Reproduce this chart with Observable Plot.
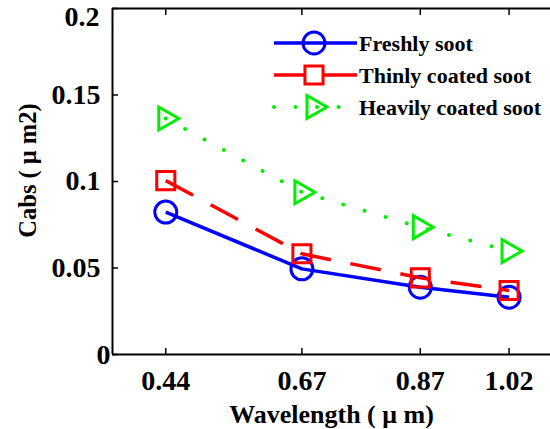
<!DOCTYPE html>
<html>
<head>
<meta charset="utf-8">
<script src="https://cdn.jsdelivr.net/npm/d3@7"></script>
<script src="https://cdn.jsdelivr.net/npm/@observablehq/plot@0.6"></script>
<style>
  html, body { margin: 0; padding: 0; background: #fff; }
</style>
</head>
<body>
<div id="chart"></div>
<script>
// ---- data ----
const wavelengths = [0.44, 0.67, 0.87, 1.02];
const freshly = [0.0823, 0.0495, 0.0389, 0.0331];
const thinly  = [0.1005, 0.0582, 0.0443, 0.0370];
const heavily = [0.1364, 0.0938, 0.0736, 0.0598];
const seriesNames = ["Freshly soot", "Thinly coated soot", "Heavily coated soot"];
const seriesValues = [freshly, thinly, heavily];
const xTicks = [0.44, 0.67, 0.87, 1.02];
const yTicks = [0.05, 0.1, 0.15];
const yTop = 0.2;
const yZero = 0;
const xLabel = "Wavelength ( \u03bc m)";
const yLabel = "Cabs ( \u03bc m2)";

// ---- styles ----
const colors = ["#0000ff", "#ff0000", "#00ee00"];
const dashes = [null, "31 20", "0 22"];
const lineWidths = [3.5, 3.5, 4];
const triangleRight = {
  draw(ctx, size) {
    const r = Math.sqrt(size / Math.PI);
    ctx.moveTo(-0.7 * r, -1.15 * r);
    ctx.lineTo(1.3 * r, 0);
    ctx.lineTo(-0.7 * r, 1.15 * r);
    ctx.closePath();
  }
};
const symbols = ["circle", "square", triangleRight];
const radii = [11, 10.2, 10];

const rows = [];
seriesNames.forEach((name, i) => {
  wavelengths.forEach((w, j) => rows.push({series: name, idx: i, w, v: seriesValues[i][j]}));
});

const xDomain = [0.35, 1.09];
const font = "'Liberation Serif', 'Times New Roman', serif";
const tickFont = 28;

const seriesMarks = [];
seriesNames.forEach((name, i) => {
  const d = rows.filter(r => r.idx === i);
  seriesMarks.push(Plot.line(d, {
    x: "w", y: "v", stroke: colors[i], strokeWidth: lineWidths[i],
    strokeDasharray: dashes[i], strokeLinecap: i === 2 ? "round" : "butt"
  }));
  seriesMarks.push(Plot.dot(d, {
    x: "w", y: "v", r: radii[i], symbol: symbols[i],
    stroke: colors[i], strokeWidth: 3, fill: "none"
  }));
});

const svg = Plot.plot({
  width: 550,
  height: 429,
  marginLeft: 112,
  marginRight: 0,
  marginTop: 8,
  marginBottom: 75,
  x: {domain: xDomain},
  y: {domain: [yZero, yTop]},
  style: {fontFamily: font, fontWeight: "bold", color: "#000", background: "#fff"},
  marks: [
    // inward ticks
    Plot.axisX({ticks: xTicks, anchor: "bottom", tickSize: 6, dy: -6, tickFormat: () => "", label: null, strokeWidth: 1.5}),
    Plot.axisX({ticks: xTicks, anchor: "top", tickSize: 6, dy: 6, tickFormat: () => "", label: null, strokeWidth: 1.5}),
    Plot.axisY({ticks: [yZero, ...yTicks, yTop], anchor: "left", tickSize: 6, dx: 6, tickFormat: () => "", label: null, strokeWidth: 1.5}),
    // tick labels
    Plot.axisX({ticks: xTicks, anchor: "bottom", tickSize: 0, tickPadding: 16, fontSize: tickFont, tickFormat: d => d.toFixed(2), label: null}),
    Plot.axisY({ticks: yTicks, anchor: "left", tickSize: 0, tickPadding: 12, fontSize: tickFont, tickFormat: d => String(d), label: null}),
    Plot.text([yTop], {x: () => xDomain[0], y: d => d, text: d => String(d), textAnchor: "end", dx: -13, dy: 9, fontSize: tickFont}),
    Plot.text([yZero], {x: () => xDomain[0], y: d => d, text: d => String(d), textAnchor: "end", dx: -2, dy: 1, fontSize: tickFont}),
    // frame
    Plot.ruleY([yZero], {strokeWidth: 2}),
    Plot.ruleY([yTop], {strokeWidth: 2}),
    Plot.ruleX([xDomain[0]], {strokeWidth: 2}),
    // axis titles
    Plot.text([xLabel], {text: d => d, frameAnchor: "bottom", lineAnchor: "middle", textAnchor: "middle", dy: 60, fontSize: 26}),
    Plot.text([yLabel], {text: d => d, frameAnchor: "left", lineAnchor: "middle", textAnchor: "middle", rotate: -90, dx: -84, dy: -11, fontSize: 24.5}),
    ...seriesMarks
  ]
});

// ---- legend (inside the plot, no box) ----
const lg = d3.select(svg).append("g")
  .attr("font-family", font).attr("font-weight", "bold").attr("text-anchor", "start");
seriesNames.forEach((name, i) => {
  const y = 43 + i * 32;
  lg.append("line")
    .attr("x1", 274).attr("x2", 357).attr("y1", y).attr("y2", y)
    .attr("stroke", colors[i]).attr("stroke-width", lineWidths[i])
    .attr("stroke-dasharray", i === 2 ? "0 21.5" : null)
    .attr("stroke-linecap", i === 2 ? "round" : "butt");
  const symType = typeof symbols[i] === "string"
    ? (symbols[i] === "circle" ? d3.symbolCircle : d3.symbolSquare)
    : symbols[i];
  lg.append("path")
    .attr("transform", `translate(314,${y})`)
    .attr("d", d3.symbol(symType, Math.PI * radii[i] * radii[i])())
    .attr("fill", i === 1 ? "#fff" : "none")
    .attr("stroke", colors[i]).attr("stroke-width", 3);
  lg.append("text")
    .attr("x", 359).attr("y", y).attr("dy", "0.35em")
    .attr("text-anchor", "start")
    .attr("font-size", 22).attr("fill", "#000")
    .text(name);
});

document.getElementById("chart").appendChild(svg);
</script>
</body>
</html>
